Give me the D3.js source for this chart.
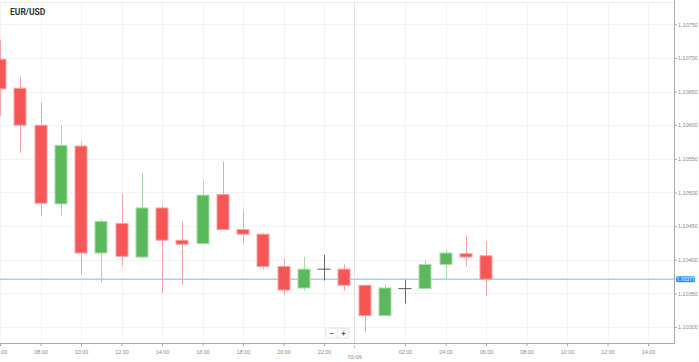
<html>
  <head>
    <script src="https://cdn.jsdelivr.net/npm/d3@7/dist/d3.min.js"></script>
    <style>
      * {
        margin: 0;
        padding: 0;
      }
      body {
        background-color: white;
        font-family: Roboto, "Open Sans", sans-serif;
      }
      .title {
        font-weight: 700;
        font-size: 8.5px;
        fill: #333;
      }
      .tick text {
        fill: #8a8a8a;
        font-size: 5.5px;
      }
    </style>
  </head>
  <body>
    <div id="container"></div>
    <script>
      // hourly candles starting 2019-10-08 06:00
      const hours = [
        6, 7, 8, 9, 10, 11, 12, 13, 14, 15, 16, 17, 18, 19, 20, 21, 22, 23,
        24, 25, 26, 27, 28, 29, 30,
      ];
      const opens = [
        1.10698, 1.10655, 1.106, 1.10483, 1.10569, 1.1041, 1.10454, 1.10404,
        1.10477, 1.10429, 1.10424, 1.10497, 1.10445, 1.10438, 1.1039, 1.10358,
        1.10386, 1.10386, 1.10362, 1.10317, 1.10357, 1.10357, 1.10393,
        1.10409, 1.10406,
      ];
      const highs = [
        1.10727, 1.10671, 1.10634, 1.106, 1.10575, 1.1046, 1.10498, 1.10529,
        1.10481, 1.10457, 1.10518, 1.10546, 1.10474, 1.1044, 1.10402, 1.10404,
        1.10407, 1.10393, 1.10362, 1.10364, 1.1037, 1.104, 1.10415, 1.10436,
        1.10427,
      ];
      const lows = [
        1.10614, 1.10559, 1.10465, 1.10465, 1.10378, 1.10366, 1.10391,
        1.10403, 1.1035, 1.10363, 1.10423, 1.10444, 1.10424, 1.10385, 1.10347,
        1.10354, 1.10369, 1.10354, 1.10292, 1.10316, 1.10335, 1.10356,
        1.10371, 1.1039, 1.10346,
      ];
      const closes = [
        1.10654, 1.106, 1.10484, 1.1057, 1.1041, 1.10457, 1.10405, 1.10477,
        1.10429, 1.10423, 1.10496, 1.10445, 1.10438, 1.1039, 1.10355, 1.10386,
        1.10386, 1.10362, 1.10317, 1.10358, 1.10357, 1.10393, 1.1041, 1.10404,
        1.10371,
      ];
      const yTicks = [
        1.103, 1.1035, 1.104, 1.1045, 1.105, 1.1055, 1.106, 1.1065, 1.107,
        1.1075,
      ];
      const currentPrice = 1.10371;
      const dateLabel = "10/09";

      const base = Date.UTC(2019, 9, 8, 0, 0);
      const hourMs = 3600 * 1000;
      const dataset = hours.map((hh, i) => ({
        t: new Date(base + hh * hourMs),
        o: opens[i],
        h: highs[i],
        l: lows[i],
        c: closes[i],
      }));

      const w = 699;
      const h = 362;
      const pLeft = 0;
      const pRight = 674;
      const pTop = 2;
      const pBottom = 343;

      const xScale = d3
        .scaleUtc()
        .domain([new Date(base + 6 * hourMs), new Date(base + (6 + 674 / 20.25) * hourMs)])
        .range([pLeft, pRight]);

      const yScale = d3
        .scaleLinear()
        .domain([1.102762, 1.107832])
        .range([pBottom, pTop]);

      const svg = d3
        .select("#container")
        .append("svg")
        .attr("width", w)
        .attr("height", h);

      const tickTimes = d3.range(6, 40, 2).map((hh) => new Date(base + hh * hourMs));
      const xTicks = tickTimes.filter((d) => d.getUTCHours() != 0);

      // grid
      svg
        .append("g")
        .selectAll("line")
        .data(yTicks)
        .enter()
        .append("line")
        .attr("x1", pLeft)
        .attr("x2", pRight)
        .attr("y1", (d) => Math.round(yScale(d)) + 0.5)
        .attr("y2", (d) => Math.round(yScale(d)) + 0.5)
        .attr("stroke", "#f3f3f3");

      svg
        .append("g")
        .selectAll("line")
        .data(xTicks)
        .enter()
        .append("line")
        .attr("x1", (d) => Math.round(xScale(d)) + 0.5)
        .attr("x2", (d) => Math.round(xScale(d)) + 0.5)
        .attr("y1", pTop)
        .attr("y2", pBottom)
        .attr("stroke", "#f3f3f3");

      svg
        .append("line")
        .attr("x1", pLeft)
        .attr("x2", pRight)
        .attr("y1", pTop + 0.5)
        .attr("y2", pTop + 0.5)
        .attr("stroke", "#ececec");

      // day break
      const dayBreak = new Date(base + 23.5 * hourMs);
      svg
        .append("line")
        .attr("x1", Math.round(xScale(dayBreak)) + 0.5)
        .attr("x2", Math.round(xScale(dayBreak)) + 0.5)
        .attr("y1", pTop)
        .attr("y2", pBottom)
        .attr("stroke", "#e2e2e2");

      // current price line
      svg
        .append("line")
        .attr("x1", pLeft)
        .attr("x2", pRight)
        .attr("y1", yScale(currentPrice))
        .attr("y2", yScale(currentPrice))
        .attr("stroke", "#9fd3f7")
        .attr("stroke-width", 1.5);

      // candles
      const bw = 13;
      const candles = svg
        .append("g")
        .selectAll("g")
        .data(dataset)
        .enter()
        .append("g");

      const col = (d) =>
        d.c > d.o ? "#5cb85c" : d.c < d.o ? "#f75656" : "#555";
      const wickCol = (d) =>
        d.c > d.o ? "#a9dba9" : d.c < d.o ? "#f8a3a3" : "#666";

      candles
        .append("line")
        .attr("x1", (d) => Math.round(xScale(d.t)) + 0.5)
        .attr("x2", (d) => Math.round(xScale(d.t)) + 0.5)
        .attr("y1", (d) => yScale(d.h))
        .attr("y2", (d) => yScale(d.l))
        .attr("stroke", wickCol);

      candles
        .filter((d) => d.c != d.o)
        .append("rect")
        .attr("class", "bar")
        .attr("x", (d) => Math.round(xScale(d.t)) - bw / 2 + 0.5)
        .attr("y", (d) => yScale(Math.max(d.o, d.c)))
        .attr("width", bw - 1)
        .attr("height", (d) => Math.max(2, Math.abs(yScale(d.o) - yScale(d.c))))
        .attr("fill", col)
        .attr("stroke", wickCol)
        .attr("stroke-width", 1);

      candles
        .filter((d) => d.c == d.o)
        .append("line")
        .attr("x1", (d) => xScale(d.t) - bw / 2)
        .attr("x2", (d) => xScale(d.t) + bw / 2)
        .attr("y1", (d) => yScale(d.o))
        .attr("y2", (d) => yScale(d.o))
        .attr("stroke", "#555");

      // axes
      const xAxis = d3
        .axisBottom(xScale)
        .tickValues(xTicks)
        .tickSize(3)
        .tickFormat(d3.utcFormat("%H:%M"));

      const gx = svg
        .append("g")
        .attr("transform", "translate(0," + pBottom + ")")
        .call(xAxis);
      gx.select(".domain").attr("stroke", "#aaa").attr("d", "M0,0.5H" + (pRight + 1));
      gx.selectAll(".tick line").attr("stroke", "#aaa");
      gx.selectAll(".tick text").attr("y", 7);

      const gd = svg
        .append("g")
        .attr("transform", "translate(" + (Math.round(xScale(dayBreak)) + 0.5) + "," + pBottom + ")");
      gd.append("line").attr("y1", 0).attr("y2", 5).attr("stroke", "#aaa").attr("stroke-dasharray", "1,1");
      gd.append("text")
        .attr("y", 16)
        .attr("text-anchor", "middle")
        .attr("fill", "#8a8a8a")
        .attr("font-size", "5.5px")
        .text(dateLabel);

      const yAxis = d3
        .axisRight(yScale)
        .tickValues(yTicks)
        .tickSize(3)
        .tickFormat(d3.format(".5f"));

      const gy = svg
        .append("g")
        .attr("transform", "translate(" + pRight + ",0)")
        .call(yAxis);
      gy.select(".domain").attr("stroke", "#aaa").attr("d", "M0.5,0V" + (pBottom + 1));
      gy.selectAll(".tick line").attr("stroke", "#aaa");
      gy.selectAll(".tick text").attr("x", 4);

      // current price tag
      const py = yScale(currentPrice);
      svg
        .append("rect")
        .attr("x", pRight + 2)
        .attr("y", py - 3)
        .attr("width", 19)
        .attr("height", 6)
        .attr("rx", 1.5)
        .attr("fill", "#2196f3");
      svg
        .append("text")
        .attr("x", pRight + 11.5)
        .attr("y", py + 1.8)
        .attr("text-anchor", "middle")
        .attr("fill", "white")
        .attr("font-size", "5px")
        .text(d3.format(".5f")(currentPrice));

      // zoom buttons
      const zb = svg.append("g").attr("transform", "translate(326,328)");
      zb.append("rect")
        .attr("width", 23)
        .attr("height", 10)
        .attr("rx", 1.5)
        .attr("fill", "white")
        .attr("stroke", "#e4e4e4");
      zb.append("line").attr("x1", 11.5).attr("x2", 11.5).attr("y1", 0).attr("y2", 10).attr("stroke", "#e4e4e4");
      zb.append("text").attr("x", 5.5).attr("y", 7.5).attr("text-anchor", "middle").attr("font-size", "8px").attr("font-weight", 700).attr("fill", "#555").text("−");
      zb.append("text").attr("x", 17.5).attr("y", 7.5).attr("text-anchor", "middle").attr("font-size", "8px").attr("font-weight", 700).attr("fill", "#555").text("+");

      // title
      svg
        .append("text")
        .attr("class", "title")
        .attr("x", 10)
        .attr("y", 15.3)
        .text("EUR/USD");
    </script>
  </body>
</html>
